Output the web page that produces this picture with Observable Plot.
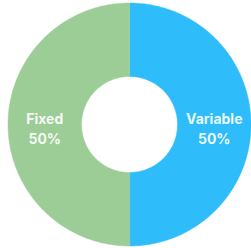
<!DOCTYPE html>
<html><head><meta charset="utf-8">
<script src="https://cdn.jsdelivr.net/npm/d3@7"></script>
<script src="https://cdn.jsdelivr.net/npm/@observablehq/plot@0.6"></script>
<style>html,body{margin:0;padding:0;background:#fff;}svg{display:block;}</style>
</head><body><div id="chart"></div>
<script>
const categories = ["Variable", "Fixed"];
const values = [50, 50];
const colors = ["#2ebcfb", "#9dcd96"];

const inner = 0.395, outer = 1;
const total = d3.sum(values);
const pie = d3.pie().sort(null).value(d => d.value)(categories.map((c, i) => ({category: c, value: values[i]})));

const pts = [];
for (const s of pie) {
  const n = 120;
  for (let k = 0; k <= n; k++) {
    const a = s.startAngle + (s.endAngle - s.startAngle) * k / n;
    pts.push({category: s.data.category, x: outer * Math.sin(a), y: outer * Math.cos(a)});
  }
  for (let k = n; k >= 0; k--) {
    const a = s.startAngle + (s.endAngle - s.startAngle) * k / n;
    pts.push({category: s.data.category, x: inner * Math.sin(a), y: inner * Math.cos(a)});
  }
}
const labels = pie.map(s => {
  const a = (s.startAngle + s.endAngle) / 2, r = (inner + outer) / 2;
  return {x: r * Math.sin(a), y: r * Math.cos(a), text: `${s.data.category}\n${Math.round(s.data.value / total * 100)}%`};
});

const chart = Plot.plot({
  width: 251, height: 248,
  marginLeft: 7.5, marginRight: 0.5, marginTop: 2.5, marginBottom: 2.5,
  x: {domain: [-1, 1], axis: null},
  y: {domain: [-1, 1], axis: null},
  color: {domain: categories, range: colors},
  marks: [
    Plot.line(pts, {x: "x", y: "y", z: "category", fill: "category", stroke: "category", strokeWidth: 0.5, curve: "linear-closed"}),
    Plot.text(labels, {x: "x", y: "y", text: "text", fill: "white", fillOpacity: 0.92, fontSize: 14, fontWeight: 700, lineHeight: 1.4, dy: 3, fontFamily: "Inter, sans-serif"})
  ]
});
document.getElementById("chart").append(chart);
</script></body></html>
